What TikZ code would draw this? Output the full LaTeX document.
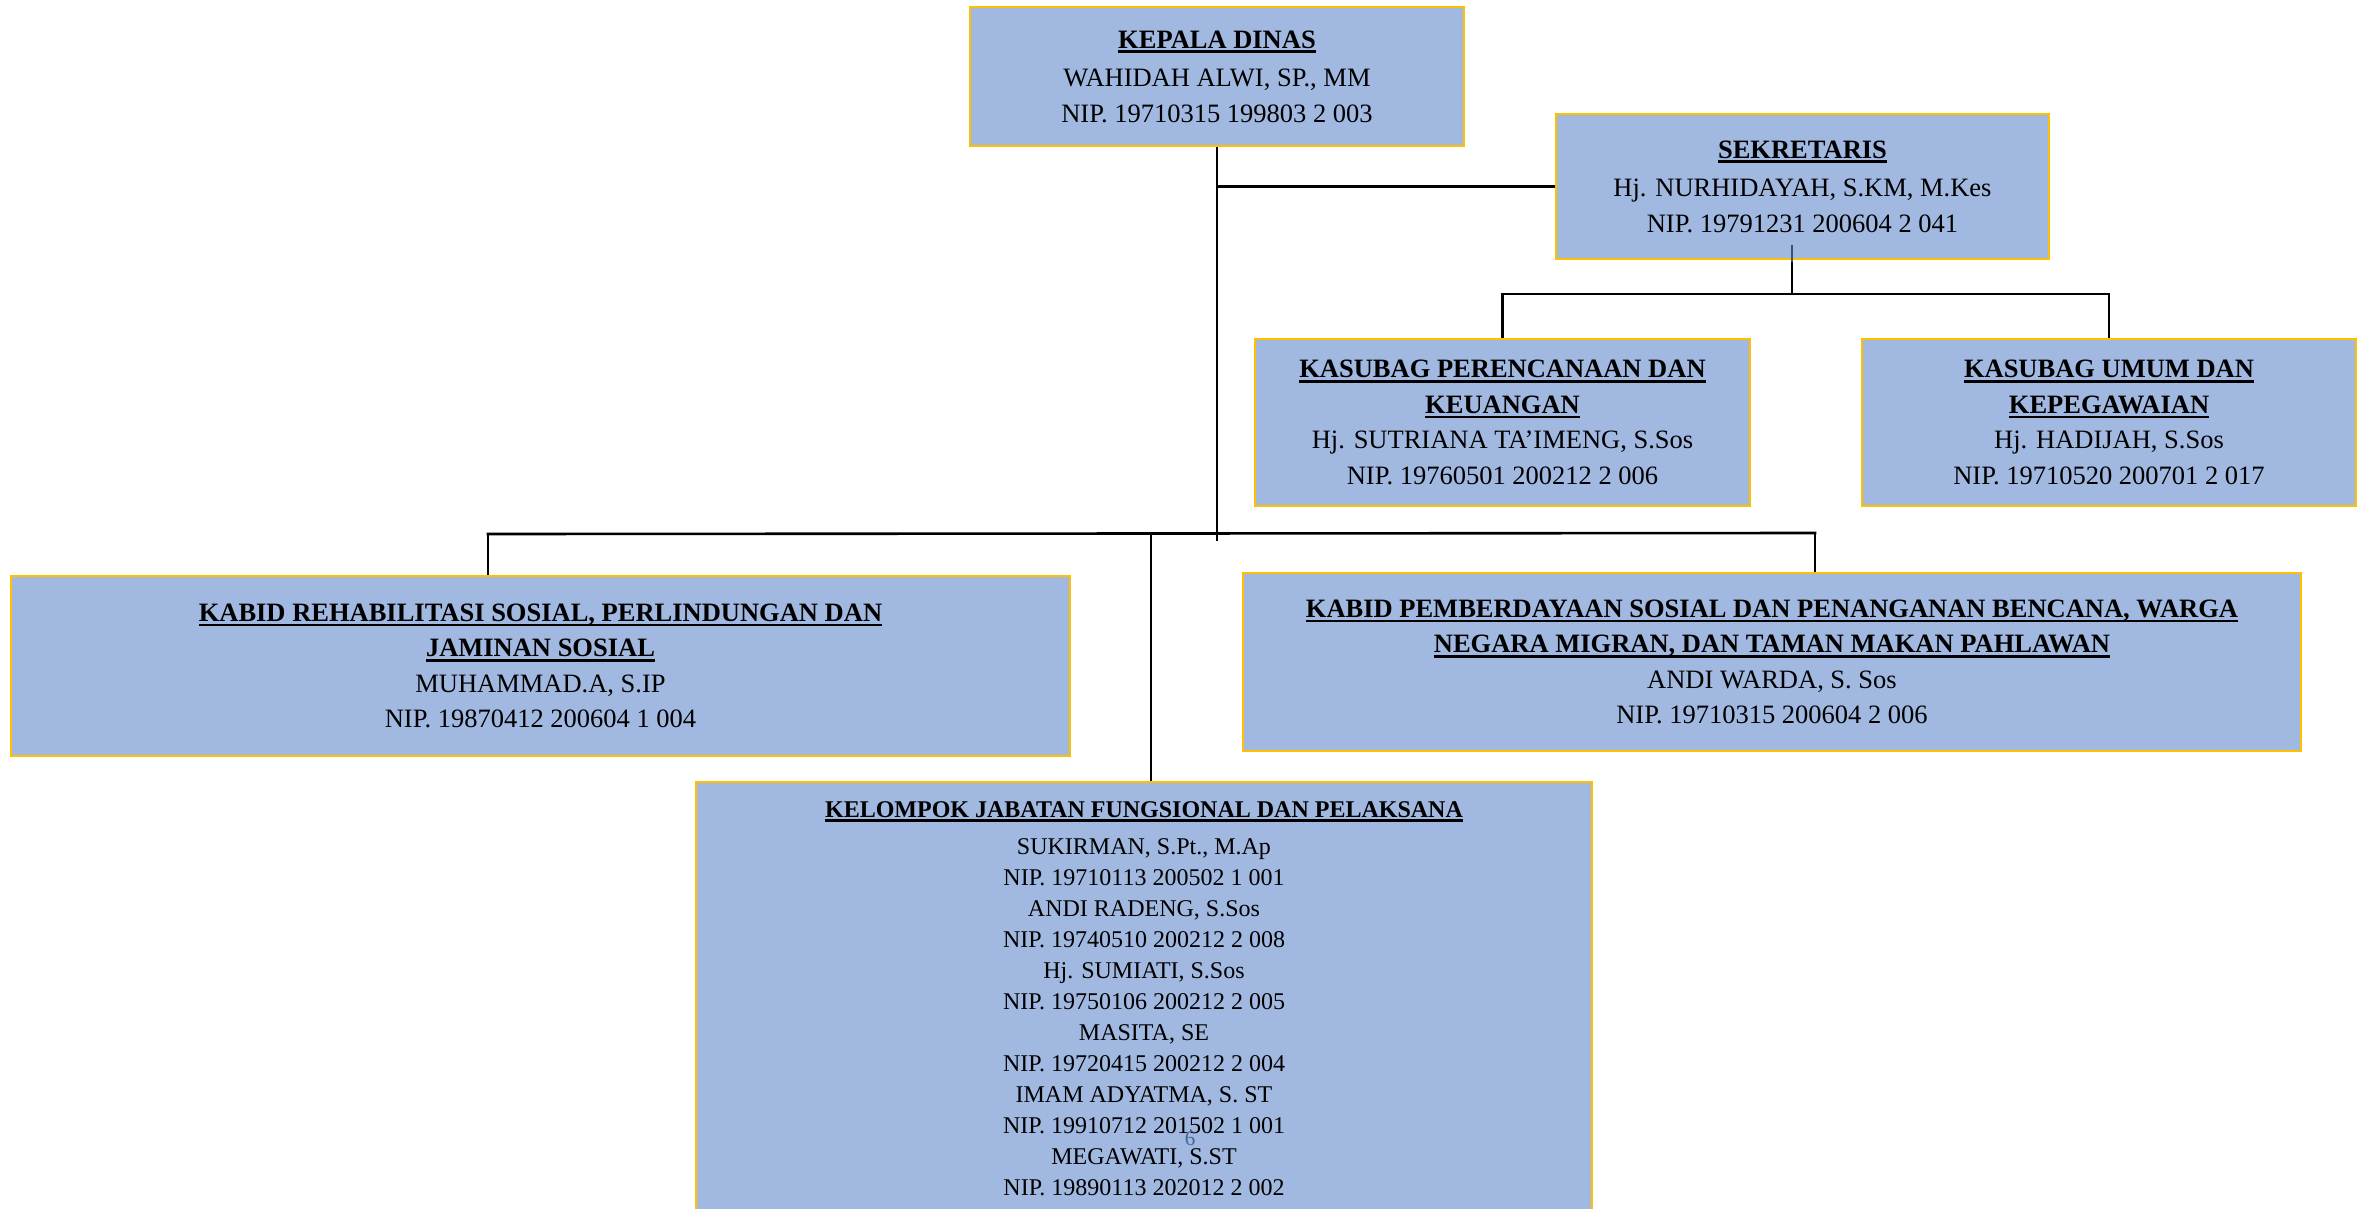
\documentclass[tikz,border=0pt]{standalone}
\usepackage{fontspec}
\setmainfont{Liberation Serif}
\usepackage{tikz}
\usetikzlibrary{backgrounds}
\definecolor{isi}{HTML}{A1B8E0}
\definecolor{tepi}{HTML}{FFC000}
\definecolor{nomor}{HTML}{466496}
\newcommand{\jabatan}[1]{{\bfseries\setbox0=\hbox{#1}\rlap{\rule[-4.8pt]{\wd0}{2.6pt}}\box0}}

\begin{document}
\begin{tikzpicture}
[x=1pt,y=-1pt,
 kotak/.style={draw=tepi,fill=isi,line width=2.5pt,inner sep=0pt,align=center,
   font=\fontsize{26.5}{35.5}\selectfont},
 garis/.style={line width=2.6pt,line cap=rect}]
\useasboundingbox (0,0) rectangle (2362,1208);

\node[kotak,minimum width=494pt,minimum height=139pt] (kadis) at (1217,76.5)
  {\jabatan{KEPALA DINAS}\\[3pt]
   WAHIDAH ALWI, SP., MM\\
   NIP. 19710315 199803 2 003};
\node[kotak,minimum width=493pt,minimum height=145pt] (sekr) at (1802.5,186.5)
  {\jabatan{SEKRETARIS}\\[3pt]
   Hj. NURHIDAYAH, S.KM, M.Kes\\
   NIP. 19791231 200604 2 041};
\node[kotak,minimum width=495pt,minimum height=167pt] (renc) at (1502.5,422.5)
  {\jabatan{KASUBAG PERENCANAAN DAN}\\
   \jabatan{KEUANGAN}\\
   Hj. SUTRIANA TA’IMENG, S.Sos\\
   NIP. 19760501 200212 2 006};
\node[kotak,minimum width=494pt,minimum height=167pt] (umum) at (2109,422.5)
  {\jabatan{KASUBAG UMUM DAN}\\
   \jabatan{KEPEGAWAIAN}\\
   Hj. HADIJAH, S.Sos\\
   NIP. 19710520 200701 2 017};
\node[kotak,minimum width=1059pt,minimum height=180pt] (rehab) at (540.5,666)
  {\jabatan{KABID REHABILITASI SOSIAL, PERLINDUNGAN DAN}\\
   \jabatan{JAMINAN SOSIAL}\\
   MUHAMMAD.A, S.IP\\
   NIP. 19870412 200604 1 004};
\node[kotak,minimum width=1058pt,minimum height=178pt] (pemb) at (1772,662)
  {\jabatan{KABID PEMBERDAYAAN SOSIAL DAN PENANGANAN BENCANA, WARGA}\\
   \jabatan{NEGARA MIGRAN, DAN TAMAN MAKAN PAHLAWAN}\\
   ANDI WARDA, S. Sos\\
   NIP. 19710315 200604 2 006};
\node[kotak,minimum width=896pt,minimum height=433pt,
  font=\fontsize{24}{31}\selectfont] (kjf) at (1144,998.5)
  {\jabatan{KELOMPOK JABATAN FUNGSIONAL DAN PELAKSANA}\\[6pt]
   SUKIRMAN, S.Pt., M.Ap\\
   NIP. 19710113 200502 1 001\\
   ANDI RADENG, S.Sos\\
   NIP. 19740510 200212 2 008\\
   Hj. SUMIATI, S.Sos\\
   NIP. 19750106 200212 2 005\\
   MASITA, SE\\
   NIP. 19720415 200212 2 004\\
   IMAM ADYATMA, S. ST\\
   NIP. 19910712 201502 1 001\\
   MEGAWATI, S.ST\\
   NIP. 19890113 202012 2 002};
\node[text=nomor,font=\fontsize{21}{21}\selectfont] (halaman) at (1190,1139) {6};

% titik cabang
\coordinate (batang) at (1217,540);
\coordinate (sekdalam) at (1792,246);
\coordinate (sekbawah) at (1792,294);
\coordinate (kiri) at (488,534);
\coordinate (kanan) at (1815,533);
\coordinate (cabang) at (1151,534);

\begin{scope}[on background layer]
\draw[garis] (kadis.south) -- (batang);
\draw[garis] (kadis.south |- sekr.west) -- (sekr.west);
\draw[garis] (sekdalam |- sekr.south) -- (sekbawah);
\draw[garis] (renc.north |- sekbawah) -- (umum.north |- sekbawah);
\draw[garis] (renc.north |- sekbawah) -- (renc.north);
\draw[garis] (umum.north |- sekbawah) -- (umum.north);
\draw[garis] (kiri) -- (kanan);
\draw[garis] (kiri) -- (kiri |- rehab.north);
\draw[garis] (kanan) -- (kanan |- pemb.north);
\draw[garis] (cabang) -- (cabang |- kjf.north);
\end{scope}
\draw[garis,draw=nomor!80!black] (sekdalam) -- (sekdalam |- sekr.south);
\end{tikzpicture}
\end{document}
